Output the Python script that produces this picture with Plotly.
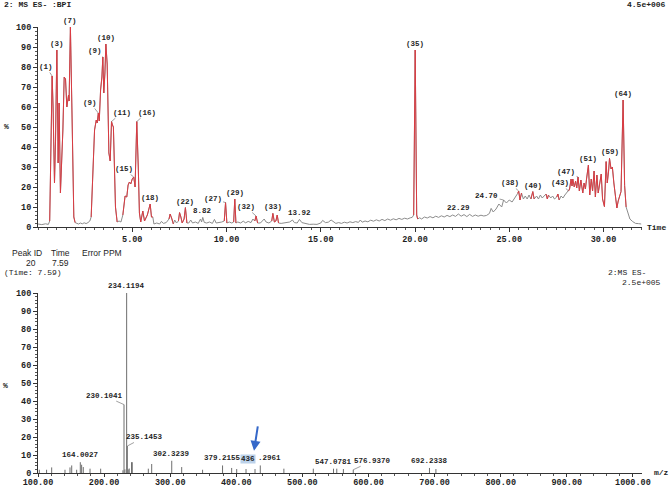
import plotly.graph_objects as go

# ---------------- Chromatogram (BPI) data ----------------
chrom_time = [
    0.00, 0.20, 0.40, 0.55, 0.62, 0.68, 0.75, 0.80, 0.875, 0.93, 1.00, 1.07, 1.12, 1.19, 1.26,
    1.32, 1.39, 1.46, 1.53, 1.62, 1.65, 1.72, 1.81, 1.90, 1.97, 2.05, 2.15, 2.25, 2.35, 2.45,
    2.55, 2.65, 2.75, 2.82, 2.90, 3.00, 3.09, 3.14, 3.20, 3.25, 3.32, 3.39, 3.44, 3.49, 3.55,
    3.60, 3.67, 3.76, 3.83, 3.90, 3.95, 4.00, 4.11, 4.20, 4.30, 4.40, 4.50, 4.55, 4.62, 4.71,
    4.78, 4.85, 4.92, 5.00, 5.08, 5.15, 5.24, 5.32, 5.38, 5.45, 5.56, 5.65, 5.80, 5.95, 6.02,
    6.09, 6.15, 6.30, 6.45, 6.55, 6.65, 6.80, 6.95, 7.01, 7.11, 7.18, 7.25, 7.35, 7.45, 7.51,
    7.58, 7.65, 7.75, 7.82, 7.90, 8.00, 8.10, 8.20, 8.35, 8.50, 8.62, 8.68, 8.74, 8.82, 8.95,
    9.10, 9.25, 9.36, 9.45, 9.60, 9.75, 9.88, 9.95, 10.02, 10.15, 10.28, 10.38, 10.44, 10.50, 10.60,
    10.75, 10.90, 11.00, 11.15, 11.30, 11.40, 11.50, 11.57, 11.65, 11.80, 12.00, 12.10, 12.25, 12.40, 12.46,
    12.54, 12.62, 12.69, 12.76, 12.90, 13.05, 13.20, 13.35, 13.50, 13.60, 13.75, 13.87, 14.00, 14.20, 14.40,
    14.60, 14.80, 15.00, 15.10, 15.25, 15.40, 15.55, 15.70, 15.80, 15.95, 16.10, 16.25, 16.40, 16.55, 16.70,
    16.85, 17.00, 17.10, 17.20, 17.35, 17.50, 17.65, 17.80, 17.95, 18.10, 18.25, 18.40, 18.55, 18.70, 18.85,
    19.00, 19.15, 19.30, 19.45, 19.60, 19.75, 19.85, 19.93, 20.01, 20.09, 20.14, 20.25, 20.35, 20.50, 20.65,
    20.80, 20.95, 21.10, 21.25, 21.40, 21.55, 21.70, 21.85, 22.00, 22.15, 22.30, 22.45, 22.60, 22.75, 22.90,
    23.05, 23.20, 23.35, 23.50, 23.65, 23.80, 23.95, 24.04, 24.15, 24.30, 24.45, 24.60, 24.70, 24.85, 25.00,
    25.15, 25.30, 25.45, 25.50, 25.57, 25.65, 25.75, 25.85, 25.95, 26.05, 26.15, 26.25, 26.32, 26.45, 26.55,
    26.65, 26.75, 26.85, 26.95, 27.02, 27.08, 27.20, 27.30, 27.40, 27.52, 27.58, 27.65, 27.75, 27.85, 27.95,
    28.05, 28.15, 28.20, 28.28, 28.33, 28.37, 28.45, 28.52, 28.58, 28.65, 28.72, 28.80, 28.90, 28.97, 29.04,
    29.10, 29.20, 29.27, 29.35, 29.42, 29.50, 29.57, 29.65, 29.72, 29.80, 29.88, 29.95, 30.05, 30.14, 30.20,
    30.27, 30.32, 30.40, 30.47, 30.55, 30.61, 30.71, 30.78, 30.86, 30.93, 31.04, 31.12, 31.20, 31.29, 31.40,
    31.55, 31.70, 31.85, 32.00,
]
chrom_int = [
    1.5, 1.2, 1.6, 1.3, 3, 40, 75.5, 60, 22, 43, 88.5, 32, 62, 17, 30,
    48.5, 75, 74, 60, 66, 63, 100, 53.5, 5, 2.2, 2.0, 1.5, 2.0, 1.6, 2.1,
    1.7, 2.2, 3.0, 5, 25, 48.5, 53.5, 52, 57, 53, 68.5, 75, 85, 67, 77,
    91.5, 81.5, 37, 33, 52.7, 51, 50, 10, 2.5, 3.0, 2.5, 6, 10, 15.5, 15,
    21, 22.5, 21.5, 24, 25, 20, 52.7, 30, 7, 2.5, 8, 3, 6, 11.5, 5,
    5, 1.5, 2, 1.5, 2.8, 1.8, 2.2, 4, 6.5, 4, 1.5, 3.5, 2.0, 3, 7.2,
    5, 2, 4, 9.7, 2, 2, 3.5, 2, 2.5, 1.8, 4, 2.5, 4.8, 2.3, 2,
    2.5, 1.8, 3.8, 2, 2.2, 2.5, 3, 12.2, 2, 2.5, 2, 2.5, 14, 2, 2.5,
    2, 3, 2, 2.8, 2.2, 4, 3, 5.5, 2, 2, 4, 2.5, 2, 3, 6.8,
    2.5, 3, 6, 2, 1.8, 2, 2.2, 2.5, 3.5, 2.2, 2, 3.8, 2.2, 1.6, 1.3,
    1.4, 1.3, 2, 3.3, 2.2, 2.4, 3.5, 2.5, 1.8, 2.2, 1.8, 2.4, 2.0, 2.6, 2.2,
    2.7, 2.3, 3.5, 2.4, 3.0, 2.6, 3.4, 2.9, 3.6, 3.0, 3.8, 3.2, 4.0, 3.4, 4.1,
    3.6, 4.3, 3.8, 4.4, 4.0, 4.6, 4.8, 6, 88.5, 6, 4, 4.6, 4, 5, 4.5,
    5.2, 4.6, 5.4, 4.8, 5.6, 5.0, 5.8, 5.2, 6.0, 5.3, 6.5, 5.4, 6.2, 5.2, 6.3,
    5.3, 6.0, 5.4, 5.9, 5.5, 5.8, 6.8, 9.3, 7.5, 9, 11.5, 10, 13.5, 12, 13.5,
    12.5, 14.5, 16.8, 18, 13.5, 17, 14, 15.5, 14, 16, 14, 17.7, 14, 15.5, 14,
    16, 14.5, 15.5, 16.5, 14, 16, 14.5, 15.5, 14, 15, 16.5, 13.5, 15.5, 14.5, 16,
    17, 18, 19, 24, 20.5, 24, 20, 23, 19.5, 25, 18, 23.5, 17, 22, 19,
    24, 31, 16, 24, 18, 28, 15, 26, 17, 22, 26.5, 14, 10.2, 32.7, 22,
    28, 34.3, 29, 30, 22, 16.5, 9.5, 13, 16, 17.7, 63.5, 20.7, 10, 6.8, 4,
    2.7, 1.8, 1.7, 1.5,
]
# retention-time windows of integrated peaks (drawn red)
red_windows = [(0.6, 1.98), (2.8, 4.21), (4.45, 6.1), (6.9, 7.2), (7.4, 7.95), (9.85, 10.05),
               (10.35, 10.55), (11.45, 11.7), (12.35, 12.8), (19.9, 20.15), (25.4, 25.7),
               (26.1, 26.35), (26.9, 27.1), (27.5, 27.7), (28.1, 31.2)]

peak_labels = ["(1)", "(3)", "(7)", "(9)", "(9)", "(10)", "(11)", "(15)", "(16)", "(18)", "(22)", "8.82",
               "(27)", "(29)", "(32)", "(33)", "13.92", "(35)", "22.29", "24.70", "(38)", "(40)", "(43)",
               "(47)", "(51)", "(59)", "(64)"]
peak_times = [0.75, 1.00, 1.72, 3.20, 3.44, 3.60, 3.90, 5.08, 5.24, 5.95, 7.82, 8.74,
              9.95, 10.44, 11.57, 12.46, 13.87, 20.01, 22.30, 24.70, 25.50, 26.25, 28.15,
              28.65, 29.20, 30.32, 31.04]
chrom_xticks = [5, 10, 15, 20, 25, 30]
pct_ticks = [0, 10, 20, 30, 40, 50, 60, 70, 80, 90, 100]

# ---------------- Mass spectrum data ----------------
spec_mz = [102, 113, 120.7, 140.8, 148.4, 151, 158.5, 164.0027, 166, 168.5, 178.7, 194.8,
           228.5, 230.1041, 231.5, 234.1194, 235.1453, 236.5, 238, 241.5, 242.6, 266.9, 272,
           302.3239, 317.4, 349, 379.2155, 393, 400.6, 414.7, 428.3, 436.2961, 472, 516.5,
           547.0781, 552, 562, 576.9370, 692.2338, 702]
spec_int = [1.8, 1.8, 3.1, 1.8, 3.1, 4.2, 1.8, 6.0, 4.6, 3.3, 2.4, 2.4,
            1.5, 38, 2.0, 100, 15, 2.0, 2.5, 6.0, 6.0, 2.4, 5.0,
            6.8, 3.3, 1.8, 4.2, 2.8, 2.2, 2.2, 2.2, 4.2, 2.4, 2.4,
            2.4, 2.4, 2.2, 1.8, 2.8, 2.2]
spec_labels = ["234.1194", "230.1041", "235.1453", "164.0027", "302.3239", "379.2155",
               "547.0781", "576.9370", "692.2338"]
spec_xticks = [100, 200, 300, 400, 500, 600, 700, 800, 900, 1000]

# ---------------- styling / layout constants ----------------
W, H = 669, 488
ML, MR = 38, 27
PW = W - ML - MR
MONO = "Liberation Mono"
SANS = "Liberation Sans"
TXT = "#1e1e1e"

def px_x(px):
    return (px - ML) / PW

def px_y(py):
    return 1 - py / H

fig = go.Figure()

# chromatogram grey trace
fig.add_trace(go.Scatter(x=chrom_time, y=chrom_int, mode="lines",
                         line=dict(color="#8c8c8c", width=1), xaxis="x", yaxis="y",
                         cliponaxis=False, hoverinfo="skip"))
# red (integrated) parts
def in_red(t):
    return any(a <= t <= b for a, b in red_windows)

red_y = [v if in_red(t) else None for t, v in zip(chrom_time, chrom_int)]
fig.add_trace(go.Scatter(x=chrom_time, y=red_y, mode="lines", connectgaps=False,
                         line=dict(color="#db3b42", width=1), xaxis="x", yaxis="y",
                         cliponaxis=False, hoverinfo="skip"))

# spectrum sticks
sx, sy = [], []
for m, v in zip(spec_mz, spec_int):
    sx += [m, m, None]
    sy += [0, v, None]
fig.add_trace(go.Scatter(x=sx, y=sy, mode="lines", line=dict(color="#6e6e6e", width=1),
                         xaxis="x2", yaxis="y2", cliponaxis=False, hoverinfo="skip"))

annotations = []
lab_font = dict(family=MONO, size=7.5, color=TXT, weight="bold")

# peak label offsets (None -> directly above)
peak_offsets = [(-6, -9), None, None, (-8, -10), (-8, -6), None, (10, -9), (-10, -8), (10, -9),
                None, None, None, (-13, -4), None, (-10, -9), None, None, None, None, (-17, -4),
                (-9, -8), None, (-9, -8), (-12, -5), None, None, None]
for lab, t, off in zip(peak_labels, peak_times, peak_offsets):
    v = chrom_int[chrom_time.index(t)]
    if off is None:
        annotations.append(dict(x=t, y=v, xref="x", yref="y", text=lab, showarrow=False,
                                yanchor="bottom", yshift=0, font=lab_font))
    else:
        annotations.append(dict(x=t, y=v, xref="x", yref="y", text=lab, showarrow=True,
                                arrowhead=0, arrowwidth=0.7, arrowcolor="#777", standoff=0,
                                ax=off[0], ay=off[1], font=lab_font))

# spectrum labels
spec_offsets = {"230.1041": (-20, -9), "235.1453": (17, -9), "576.9370": (19, -9)}
for lab in spec_labels:
    m = float(lab)
    v = spec_int[spec_mz.index(m)]
    if lab in spec_offsets:
        ax, ay = spec_offsets[lab]
        annotations.append(dict(x=m, y=v, xref="x2", yref="y2", text=lab, showarrow=True,
                                arrowhead=0, arrowwidth=0.7, arrowcolor="#777", standoff=0,
                                ax=ax, ay=ay, font=lab_font))
    else:
        annotations.append(dict(x=m, y=v, xref="x2", yref="y2", text=lab, showarrow=False,
                                yanchor="bottom", yshift=1, font=lab_font))
# highlighted "436" label
m436 = 436.2961
v436 = spec_int[spec_mz.index(m436)]
annotations.append(dict(x=m436, y=v436, xref="x2", yref="y2", text="436", showarrow=False,
                        xanchor="right", yanchor="bottom", yshift=1, xshift=-4, bgcolor="#bcd2ea",
                        borderpad=0, font=lab_font))
annotations.append(dict(x=m436, y=v436, xref="x2", yref="y2", text=".2961", showarrow=False,
                        xanchor="left", yanchor="bottom", yshift=1, xshift=-4, font=lab_font))
# blue arrow
annotations.append(dict(x=426.8, y=12.3, xref="x2", yref="y2", text="", showarrow=True,
                        arrowhead=2, arrowsize=1, arrowwidth=2, arrowcolor="#3568c9",
                        ax=4, ay=-26, standoff=0))

# header / free texts
hdr_mono = dict(family=MONO, size=8, color=TXT, weight="bold")
free_texts = [
    ("2: MS ES- :BPI", 2, 5, "left", hdr_mono),
    ("4.5e+006", 668, 5, "right", hdr_mono),
    ("%", 6, 127, "center", hdr_mono),
    ("Time", 645, 228, "left", hdr_mono),
    ("Peak ID", 10, 253, "left", dict(family=SANS, size=8.5, color=TXT)),
    ("Time", 49, 253, "left", dict(family=SANS, size=8.5, color=TXT)),
    ("Error PPM", 80, 253, "left", dict(family=SANS, size=8.5, color=TXT)),
    ("20", 38, 263, "right", dict(family=SANS, size=8.5, color=TXT)),
    ("7.59", 50, 263, "left", dict(family=SANS, size=8.5, color=TXT)),
    ("(Time: 7.59)", 2, 272, "left", dict(family=MONO, size=8, color=TXT)),
    ("2:MS ES-", 648, 272, "right", dict(family=MONO, size=8, color=TXT)),
    ("2.5e+005", 663, 282, "right", dict(family=MONO, size=8, color=TXT)),
    ("%", 5, 385, "center", hdr_mono),
    ("m/z", 652, 472, "left", hdr_mono),
]
for txt, x, y, anc, f in free_texts:
    annotations.append(dict(x=px_x(x), y=px_y(y), xref="paper", yref="paper", text=txt,
                            showarrow=False, xanchor=anc, yanchor="middle", font=f))

tick_font = dict(family=MONO, size=8.5, color=TXT, weight="bold")
common_axis = dict(showline=True, linecolor="#333", linewidth=1, ticks="outside",
                   tickcolor="#333", tickwidth=1, showgrid=False, zeroline=False,
                   tickfont=tick_font, fixedrange=True)

fig.update_layout(
    width=W, height=H,
    margin=dict(l=ML, r=MR, t=0, b=0, autoexpand=False),
    paper_bgcolor="white", plot_bgcolor="white",
    showlegend=False,
    xaxis=dict(domain=[0, 1], anchor="y", range=[0, PW / 18.85], ticklen=4,
               tickvals=chrom_xticks, ticktext=[f"{v:.2f}" for v in chrom_xticks],
               minor=dict(dtick=0.5, tick0=0, ticklen=2, ticks="outside", tickcolor="#555", showgrid=False),
               **common_axis),
    yaxis=dict(domain=[1 - 227 / H, 1 - 27 / H], anchor="x", range=[0, 100], ticklen=4,
               tickvals=pct_ticks, ticktext=[str(v) for v in pct_ticks],
               minor=dict(dtick=2, tick0=0, ticklen=2, ticks="outside", tickcolor="#555", showgrid=False),
               **common_axis),
    xaxis2=dict(domain=[0, 1], anchor="y2", range=[100, 100 + PW / 0.661], ticklen=3,
                ticklabelstandoff=-2,
                tickvals=spec_xticks, ticktext=[f"{v:.2f}" for v in spec_xticks],
                minor=dict(dtick=20, tick0=0, ticklen=2, ticks="outside", tickcolor="#555", showgrid=False),
                **common_axis),
    yaxis2=dict(domain=[1 - 473 / H, 1 - 293 / H], anchor="x2", range=[0, 100], ticklen=4,
                tickvals=pct_ticks, ticktext=[str(v) for v in pct_ticks],
                minor=dict(dtick=2, tick0=0, ticklen=2, ticks="outside", tickcolor="#555", showgrid=False),
                **common_axis),
    annotations=annotations,
)

fig.write_html("out.html")
